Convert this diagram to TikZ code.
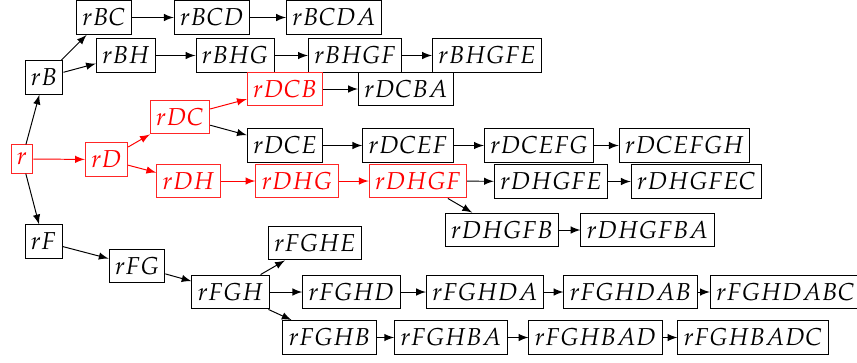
\documentclass[tikz,border=0pt]{standalone}
\usepackage{mathpazo}
\usetikzlibrary{arrows}
\begin{document}
\begin{tikzpicture}[x=0.4082pt,y=-0.4082pt,
  st/.style={draw,rectangle,inner xsep=2.4pt,inner ysep=3.3pt,font=\fontsize{10}{12}\selectfont},
  hl/.style={st,draw=red!85,text=red},
  ar/.style={-latex},
  rar/.style={-latex,red}]
\useasboundingbox (0,0) rectangle (857,362);
\node[hl] (r) at (22,159) {$r$};
\node[st] (rB) at (44,77.5) {$rB$};
\node[st] (rBC) at (104,17.5) {$rBC$};
\node[st] (rBCD) at (212,17.5) {$rBCD$};
\node[st] (rBCDA) at (334,17.5) {$rBCDA$};
\node[st] (rBH) at (126,55.5) {$rBH$};
\node[st] (rBHG) at (235,55.5) {$rBHG$};
\node[st] (rBHGF) at (355,55.5) {$rBHGF$};
\node[st] (rBHGFE) at (487,55.5) {$rBHGFE$};
\node[hl] (rD) at (106.5,159.5) {$rD$};
\node[hl] (rDC) at (180,117) {$rDC$};
\node[hl] (rDCB) at (285,89) {$rDCB$};
\node[st] (rDCBA) at (406,89) {$rDCBA$};
\node[st] (rDCE) at (285,145.5) {$rDCE$};
\node[st] (rDCEF) at (408,145.5) {$rDCEF$};
\node[st] (rDCEFG) at (539,145.5) {$rDCEFG$};
\node[st] (rDCEFGH) at (684.5,145.5) {$rDCEFGH$};
\node[hl] (rDH) at (188.5,181) {$rDH$};
\node[hl] (rDHG) at (297,181) {$rDHG$};
\node[hl] (rDHGF) at (418,181) {$rDHGF$};
\node[st] (rDHGFE) at (551,181.5) {$rDHGFE$};
\node[st] (rDHGFEC) at (696.5,181.5) {$rDHGFEC$};
\node[st] (rDHGFB) at (502,230) {$rDHGFB$};
\node[st] (rDHGFBA) at (647.5,230) {$rDHGFBA$};
\node[st] (rF) at (43.5,241.5) {$rF$};
\node[st] (rFG) at (137,266) {$rFG$};
\node[st] (rFGH) at (230.5,292) {$rFGH$};
\node[st] (rFGHE) at (315,243) {$rFGHE$};
\node[st] (rFGHD) at (351.5,292) {$rFGHD$};
\node[st] (rFGHDA) at (485,292) {$rFGHDA$};
\node[st] (rFGHDAB) at (630.5,292) {$rFGHDAB$};
\node[st] (rFGHDABC) at (785.5,292) {$rFGHDABC$};
\node[st] (rFGHB) at (329.5,337.5) {$rFGHB$};
\node[st] (rFGHBA) at (451,337.5) {$rFGHBA$};
\node[st] (rFGHBAD) at (595.5,337.5) {$rFGHBAD$};
\node[st] (rFGHBADC) at (753,337.5) {$rFGHBADC$};
\draw[ar] (r) -- (rB);
\draw[ar] (r) -- (rF);
\draw[rar] (r) -- (rD);
\draw[ar] (rB) -- (rBC);
\draw[ar] (rB) -- (rBH);
\draw[ar] (rBC) -- (rBCD);
\draw[ar] (rBCD) -- (rBCDA);
\draw[ar] (rBH) -- (rBHG);
\draw[ar] (rBHG) -- (rBHGF);
\draw[ar] (rBHGF) -- (rBHGFE);
\draw[rar] (rD) -- (rDC);
\draw[rar] (rD) -- (rDH);
\draw[rar] (rDC) -- (rDCB);
\draw[ar] (rDC) -- (rDCE);
\draw[ar] (rDCB) -- (rDCBA);
\draw[ar] (rDCE) -- (rDCEF);
\draw[ar] (rDCEF) -- (rDCEFG);
\draw[ar] (rDCEFG) -- (rDCEFGH);
\draw[rar] (rDH) -- (rDHG);
\draw[rar] (rDHG) -- (rDHGF);
\draw[ar] (rDHGF) -- (rDHGFE);
\draw[ar] (rDHGFE) -- (rDHGFEC);
\draw[ar] (rDHGF) -- (rDHGFB);
\draw[ar] (rDHGFB) -- (rDHGFBA);
\draw[ar] (rF) -- (rFG);
\draw[ar] (rFG) -- (rFGH);
\draw[ar] (rFGH) -- (rFGHE);
\draw[ar] (rFGH) -- (rFGHD);
\draw[ar] (rFGH) -- (rFGHB);
\draw[ar] (rFGHD) -- (rFGHDA);
\draw[ar] (rFGHDA) -- (rFGHDAB);
\draw[ar] (rFGHDAB) -- (rFGHDABC);
\draw[ar] (rFGHB) -- (rFGHBA);
\draw[ar] (rFGHBA) -- (rFGHBAD);
\draw[ar] (rFGHBAD) -- (rFGHBADC);
\end{tikzpicture}
\end{document}
